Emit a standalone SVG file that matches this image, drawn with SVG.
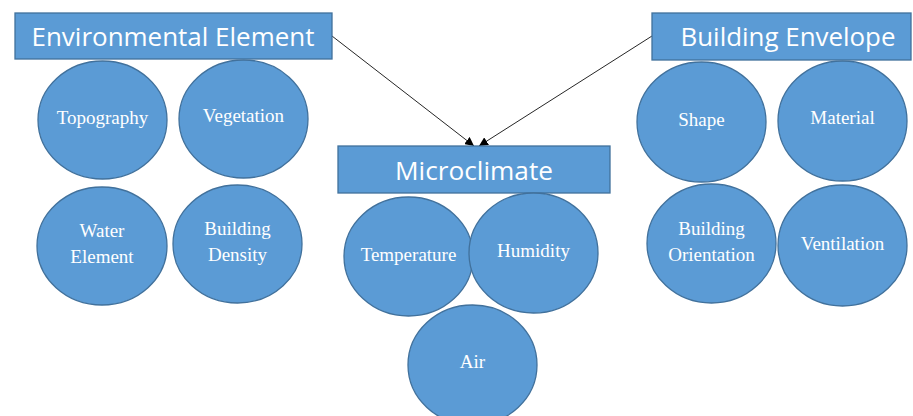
<svg xmlns="http://www.w3.org/2000/svg" width="913" height="416" viewBox="0 0 913 416">
<style>
.box{fill:#5B9BD5;stroke:#41719C;stroke-width:1.3}
.circ{fill:#5B9BD5;stroke:#41719C;stroke-width:1.3}
.title{font-family:"Open Sans","Liberation Sans",sans-serif;font-size:26px;fill:#fff;text-anchor:middle}
.lbl{font-family:"Liberation Serif","Times New Roman",serif;font-size:19px;fill:#fff;text-anchor:middle}
.conn{stroke:#262626;stroke-width:1;fill:none}
</style>
<defs>
<marker id="ah" viewBox="0 0 10 10" refX="10" refY="5" markerWidth="9" markerHeight="9" markerUnits="userSpaceOnUse" orient="auto">
<path d="M0,0 L10,5 L0,10 z" fill="#000"/>
</marker>
</defs>
<rect width="913" height="416" fill="#fff"/>
<g id="connectors">
<line class="conn" x1="332" y1="36" x2="474" y2="146" marker-end="url(#ah)"/>
<line class="conn" x1="652" y1="36" x2="479" y2="146" marker-end="url(#ah)"/>
</g>
<g id="env">
<rect class="box" x="15" y="13" width="317" height="46"/>
<text class="title" x="173" y="46" textLength="283" lengthAdjust="spacingAndGlyphs">Environmental Element</text>
</g>
<g id="envelope">
<rect class="box" x="652" y="13" width="259" height="47"/>
<text class="title" x="788" y="46" textLength="215" lengthAdjust="spacingAndGlyphs">Building Envelope</text>
</g>
<g id="micro">
<rect class="box" x="338" y="146" width="272" height="47"/>
<text class="title" x="474" y="180" textLength="158" lengthAdjust="spacingAndGlyphs">Microclimate</text>
</g>
<g id="topography">
<ellipse class="circ" cx="102.5" cy="120" rx="64.5" ry="59"/>
<text class="lbl" x="102.5" y="124">Topography</text>
</g>
<g id="vegetation">
<ellipse class="circ" cx="243.5" cy="119" rx="64.5" ry="59"/>
<text class="lbl" x="243.5" y="122">Vegetation</text>
</g>
<g id="water">
<ellipse class="circ" cx="102" cy="246" rx="65" ry="59"/>
<text class="lbl" x="102" y="237">Water</text>
<text class="lbl" x="102" y="263">Element</text>
</g>
<g id="density">
<ellipse class="circ" cx="237.5" cy="244" rx="64.5" ry="59"/>
<text class="lbl" x="237.5" y="235">Building</text>
<text class="lbl" x="237.5" y="261">Density</text>
</g>
<g id="shape">
<ellipse class="circ" cx="701.5" cy="122" rx="64.5" ry="60"/>
<text class="lbl" x="701.5" y="126">Shape</text>
</g>
<g id="material">
<ellipse class="circ" cx="842.5" cy="121" rx="64.5" ry="60"/>
<text class="lbl" x="842.5" y="124">Material</text>
</g>
<g id="orientation">
<ellipse class="circ" cx="711.5" cy="243.5" rx="64.5" ry="59.5"/>
<text class="lbl" x="711.5" y="235">Building</text>
<text class="lbl" x="711.5" y="261">Orientation</text>
</g>
<g id="ventilation">
<ellipse class="circ" cx="842.5" cy="245.5" rx="64.5" ry="60.5"/>
<text class="lbl" x="842.5" y="250">Ventilation</text>
</g>
<g id="temperature">
<ellipse class="circ" cx="408.5" cy="256.5" rx="64.5" ry="59.5"/>
<text class="lbl" x="408.5" y="261">Temperature</text>
</g>
<g id="humidity">
<ellipse class="circ" cx="533.5" cy="253" rx="64.5" ry="60"/>
<text class="lbl" x="533.5" y="257">Humidity</text>
</g>
<g id="air">
<ellipse class="circ" cx="472.5" cy="365" rx="64.5" ry="60"/>
<text class="lbl" x="472.5" y="368">Air</text>
</g>
</svg>
